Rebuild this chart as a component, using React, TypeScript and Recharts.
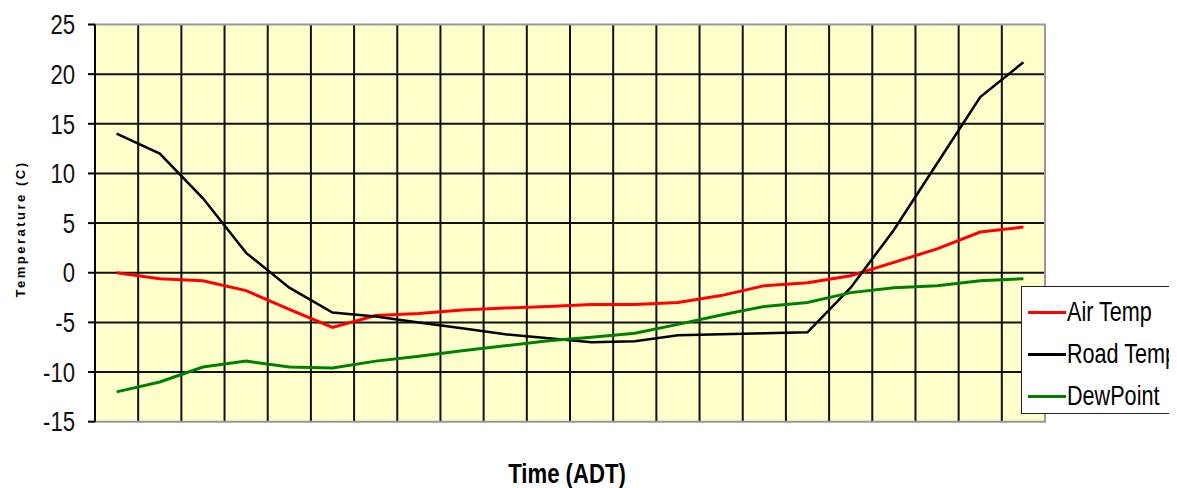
import { LineChart, Line, XAxis, YAxis, CartesianGrid, Legend, Label, ReferenceArea } from "recharts";

// one reading per time slot, 22 slots (no time labels shown on the axis)
const airTemp = [0, -0.6, -0.8, -1.8, -3.7, -5.5, -4.3, -4.1, -3.75, -3.55, -3.4, -3.2, -3.2, -3.0, -2.3, -1.3, -1.0, -0.3, 1.05, 2.4, 4.1, 4.6];
const roadTemp = [14, 12, 7.5, 2, -1.5, -4, -4.4, -5, -5.6, -6.2, -6.6, -7, -6.9, -6.3, -6.2, -6.1, -6, -1.5, 4.3, 11, 17.7, 21.2];
const dewPoint = [-12, -11, -9.5, -8.9, -9.5, -9.6, -8.9, -8.4, -7.85, -7.35, -6.85, -6.5, -6.1, -5.2, -4.25, -3.4, -3.0, -2.0, -1.5, -1.3, -0.8, -0.6];

const seriesNames = ["Air Temp", "Road Temp", "DewPoint"];
const seriesColours = ["#FF0000", "#000000", "#008000"];

const yTicks = [-15, -10, -5, 0, 5, 10, 15, 20, 25];
const Y_MIN = -15;
const Y_MAX = 25;
const SLOTS = airTemp.length;
const slotEdges = Array.from({ length: SLOTS + 1 }, (_, i) => i);

const data = airTemp.map((v, i) => ({
  slot: i + 0.5,
  air: v,
  road: roadTemp[i],
  dew: dewPoint[i],
}));

const FONT = "'Liberation Sans', Arial, sans-serif";
// the source is a stretched Excel picture: a narrow face, faked with scaleX
const NARROW = 0.82;
const LEGEND_NARROW = 0.8;

const YTick = (props: any) => {
  const { x, y, payload } = props;
  return (
    <g transform={`translate(${x},${y}) scale(${NARROW},1)`}>
      <text x={0} y={0} dy="0.36em" textAnchor="end" style={{ fontFamily: FONT, fontSize: 27, fill: "#111" }}>
        {payload.value}
      </text>
    </g>
  );
};

const renderLegend = () => (
  <div
    style={{
      boxSizing: "border-box",
      width: 185,
      height: 128,
      background: "#fff",
      border: "1.5px solid #222",
      paddingTop: 5,
    }}
  >
    {seriesNames.map((name, i) => (
      <div key={name} style={{ display: "flex", alignItems: "center", height: 42 }}>
        <div style={{ marginLeft: 6, width: 38, height: 3, background: seriesColours[i] }} />
        <span
          style={{
            display: "inline-block",
            fontFamily: FONT,
            fontSize: 27,
            color: "#000",
            marginLeft: 1,
            whiteSpace: "nowrap",
            transform: `scaleX(${LEGEND_NARROW})`,
            transformOrigin: "left center",
          }}
        >
          {name}
        </span>
      </div>
    ))}
  </div>
);

export default function App() {
  return (
    <div style={{ width: 1169, height: 480, overflow: "hidden", position: "relative" }}>
      <LineChart
        width={1169}
        height={480}
        data={data}
        margin={{ top: 16.5, right: 132, bottom: 0, left: 0 }}
      >
        <CartesianGrid
          fill="#FFFFCC"
          stroke="#111"
          strokeWidth={2}
          strokeOpacity={1}
          horizontalCoordinatesGenerator={({ offset }: any) =>
            yTicks.slice(1, -1).map((v) => offset.top + (offset.height * (Y_MAX - v)) / (Y_MAX - Y_MIN))
          }
          verticalCoordinatesGenerator={({ offset }: any) =>
            slotEdges.slice(1, -1).map((v) => offset.left + (offset.width * v) / SLOTS)
          }
        />
        <XAxis
          dataKey="slot"
          type="number"
          domain={[0, SLOTS]}
          ticks={slotEdges}
          tick={false}
          tickLine={false}
          axisLine={false}
          height={66.3}
        >
          <Label
            content={() => (
              <g transform={`translate(559,466) scale(${NARROW},1)`}>
                <text
                  x={0}
                  y={0}
                  textAnchor="middle"
                  dominantBaseline="central"
                  style={{ fontFamily: FONT, fontSize: 27, fontWeight: 700, fill: "#000" }}
                >
                  Time (ADT)
                </text>
              </g>
            )}
          />
        </XAxis>
        <YAxis
          domain={[Y_MIN, Y_MAX]}
          ticks={yTicks}
          interval={0}
          width={87}
          tickSize={7}
          tickMargin={13}
          axisLine={{ stroke: "#000", strokeWidth: 2 }}
          tickLine={{ stroke: "#000", strokeWidth: 2 }}
          tick={<YTick />}
        >
          <Label
            content={() => (
              <text
                x={12}
                y={221}
                textAnchor="middle"
                dominantBaseline="central"
                transform="rotate(-90 12 221)"
                style={{ fontFamily: FONT, fontSize: 13, fontWeight: 700, letterSpacing: 2.5, fill: "#000" }}
              >
                Temperature (C)
              </text>
            )}
          />
        </YAxis>
        <ReferenceArea x1={0} x2={SLOTS} y1={Y_MIN} y2={Y_MAX} fill="none" stroke="#999" strokeWidth={2} ifOverflow="visible" />
        <Line type="linear" dataKey="air" name={seriesNames[0]} stroke={seriesColours[0]} strokeWidth={3} dot={false} isAnimationActive={false} />
        <Line type="linear" dataKey="road" name={seriesNames[1]} stroke={seriesColours[1]} strokeWidth={2.5} dot={false} isAnimationActive={false} />
        <Line type="linear" dataKey="dew" name={seriesNames[2]} stroke={seriesColours[2]} strokeWidth={3} dot={false} isAnimationActive={false} />
        <Legend
          content={renderLegend}
          layout="vertical"
          align="center"
          verticalAlign="middle"
          wrapperStyle={{ left: 1012.7, top: 277.7, width: 185, height: 128 }}
        />
      </LineChart>
    </div>
  );
}
